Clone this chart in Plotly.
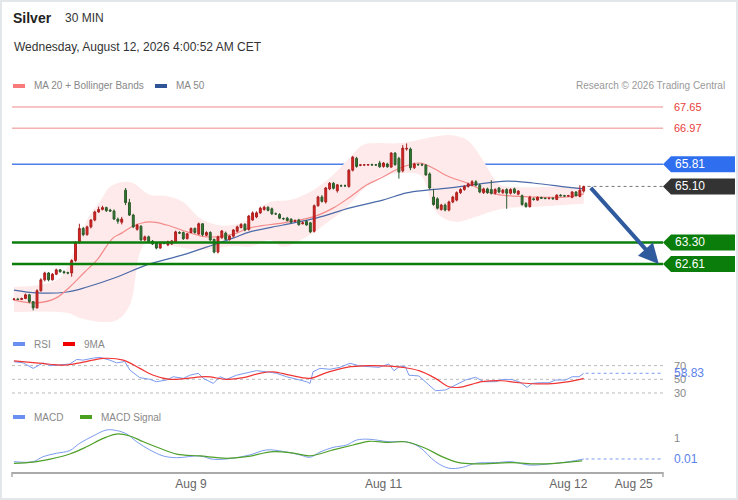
import plotly.graph_objects as go

# ---------------- data ----------------
opens = [61.47,61.48,61.47,61.50,61.62,61.40,61.20,61.75,62.10,62.32,
 62.10,62.28,62.42,62.36,62.33,62.32,62.72,63.30,63.75,63.55,
 63.80,64.02,64.28,64.36,64.42,64.34,64.31,64.05,63.95,64.98,
 64.58,64.18,63.72,63.82,63.38,63.48,63.34,63.28,63.12,63.28,
 63.22,63.25,63.32,63.62,63.62,63.42,63.62,63.75,63.57,63.90,
 63.53,63.62,63.40,62.99,63.45,63.60,63.40,63.50,63.66,63.78,
 63.88,63.72,64.02,64.12,64.25,64.36,64.43,64.38,64.22,64.20,
 64.07,64.08,64.05,63.98,64.02,63.90,63.98,63.93,63.66,64.48,
 64.76,64.60,65.02,65.20,64.96,65.12,65.12,65.10,65.62,66.00,
 65.78,65.79,65.79,65.80,65.79,65.85,65.74,65.82,65.72,66.17,
 66.00,65.60,66.30,66.30,65.70,65.80,65.80,65.78,65.50,64.76,
 64.70,64.36,64.50,64.34,64.60,64.66,64.90,65.00,65.10,65.14,
 65.25,65.14,64.90,65.02,65.00,64.88,65.05,64.90,65.00,64.88,
 65.02,64.85,64.80,64.55,64.45,64.70,64.66,64.74,64.72,64.71,
 64.72,64.68,64.82,64.80,64.79,64.75,64.92,64.78,64.95]
highs = [61.52,61.52,61.53,61.66,61.65,61.42,61.80,62.15,62.36,62.35,
 62.32,62.46,62.45,62.40,62.36,62.76,63.34,63.90,63.80,63.84,
 64.05,64.32,64.45,64.48,64.45,64.38,64.36,64.10,64.12,65.05,
 64.70,64.22,63.90,63.86,63.52,63.52,63.38,63.32,63.32,63.32,
 63.36,63.38,63.68,63.66,63.65,63.60,63.78,63.78,63.94,63.92,
 63.66,63.66,63.42,63.52,63.70,63.65,63.53,63.73,63.84,63.92,
 63.92,64.18,64.30,64.30,64.45,64.48,64.46,64.42,64.26,64.24,
 64.10,64.12,64.08,64.04,64.06,63.98,64.02,63.96,64.52,64.80,
 64.82,65.08,65.24,65.24,65.18,65.16,65.16,65.66,66.08,66.05,
 65.82,65.82,65.82,65.83,65.82,65.92,65.88,65.86,66.20,66.20,
 66.05,66.43,66.48,66.35,65.86,65.84,65.84,65.82,65.55,65.02,
 64.75,64.54,64.55,64.64,64.80,64.94,65.04,65.14,65.22,65.30,
 65.30,65.18,65.06,65.06,65.30,65.04,65.08,65.02,65.04,65.04,
 65.06,64.98,64.84,64.60,64.80,64.74,64.78,64.77,64.75,64.74,
 64.75,64.85,64.85,64.83,64.83,64.95,64.95,65.14,65.12]
lows = [61.44,61.45,61.45,61.48,61.35,61.12,61.18,61.72,62.05,62.05,
 62.08,62.25,62.33,62.30,62.28,62.20,62.68,63.25,63.50,63.52,
 63.75,63.98,64.25,64.33,64.28,64.28,64.02,63.90,63.88,64.50,
 64.15,63.76,63.68,63.35,63.34,63.28,63.22,63.08,63.10,63.24,
 63.18,63.22,63.30,63.57,63.38,63.40,63.60,63.58,63.55,63.50,
 63.50,63.35,62.95,62.95,63.42,63.38,63.36,63.46,63.62,63.75,
 63.66,63.68,64.00,64.08,64.22,64.32,64.30,64.18,64.18,64.05,
 64.02,63.98,63.92,63.96,63.84,63.88,63.84,63.60,63.62,64.45,
 64.58,64.55,64.98,65.00,64.90,65.08,65.08,65.06,65.58,65.70,
 65.75,65.76,65.76,65.76,65.76,65.70,65.70,65.70,65.70,65.76,
 65.35,65.55,66.25,65.62,65.66,65.76,65.75,65.44,65.00,64.48,
 64.36,64.32,64.30,64.30,64.56,64.62,64.86,64.96,65.06,65.10,
 65.10,64.88,64.86,64.86,64.84,64.84,64.88,64.86,64.38,64.84,
 64.86,64.82,64.48,64.42,64.42,64.64,64.64,64.70,64.69,64.68,
 64.69,64.66,64.78,64.77,64.76,64.72,64.78,64.75,64.90]
closes = [61.48,61.47,61.50,61.62,61.40,61.20,61.75,62.10,62.32,62.10,
 62.28,62.42,62.36,62.33,62.32,62.72,63.30,63.75,63.55,63.80,
 64.02,64.28,64.36,64.42,64.32,64.31,64.05,63.98,64.05,64.58,
 64.18,63.80,63.86,63.38,63.48,63.32,63.25,63.12,63.28,63.27,
 63.32,63.35,63.64,63.60,63.42,63.58,63.75,63.62,63.90,63.55,
 63.62,63.38,62.99,63.48,63.67,63.40,63.50,63.70,63.80,63.88,
 63.70,64.15,64.25,64.25,64.40,64.43,64.33,64.22,64.22,64.08,
 64.06,64.00,63.95,64.00,63.87,63.93,63.86,63.64,64.48,64.76,
 64.62,65.05,65.20,65.04,65.15,65.12,65.12,65.62,66.04,65.74,
 65.79,65.79,65.80,65.79,65.79,65.73,65.85,65.73,66.17,65.80,
 65.56,66.33,66.32,65.70,65.82,65.80,65.79,65.47,65.05,64.52,
 64.40,64.50,64.34,64.60,64.76,64.90,65.00,65.10,65.18,65.25,
 65.14,64.92,65.02,64.90,64.88,65.00,64.92,64.98,64.88,65.00,
 64.90,64.95,64.52,64.45,64.75,64.68,64.75,64.72,64.71,64.72,
 64.70,64.82,64.80,64.79,64.80,64.92,64.80,64.98,65.10]
candle_idx = list(range(len(closes)))

ma20_x = [0,6,11,14.5,18.4,21.6,25.7,28,31,35.3,39.7,45,50,57,61.3,70,77.7,83,87.3,91.7,95.8,100.3,105.5,108.8,113.2,117.7,122.9,126.2,134.8,143.6,148]
ma20_y = [61.45,61.36,61.52,61.87,62.35,62.74,63.44,63.6,63.83,63.96,63.86,63.64,63.48,63.57,63.77,63.93,64.12,64.41,64.76,65.15,65.4,65.69,65.85,65.69,65.4,65.21,64.92,64.83,64.76,64.76,64.86]
ma50_x = [0,6,13.8,19,26.8,34.5,43.9,51.7,56.9,61.3,69.9,78.7,87.3,95.8,102,107.3,113.2,119.2,128,134.8,143.6,148]
ma50_y = [61.77,61.68,61.71,61.87,62.19,62.58,62.9,63.22,63.44,63.64,63.86,64.09,64.41,64.66,64.89,64.98,65.05,65.15,65.27,65.21,65.08,65.02]
bbu_x = [0,6.8,12,15.8,19.7,22.3,24.9,28.3,30.9,35.3,39.7,43.9,48.3,52.7,56.9,60.8,66.5,71.7,76.9,82.9,87.3,90.6,94.3,100.3,108.8,113.2,117.7,121.8,124.4,126.2,130.6,139.2,148]
bbu_y = [61.87,61.94,62.16,63.06,64.18,64.6,65.08,65.24,65.21,64.83,64.79,64.6,64.09,63.86,63.86,64.02,64.6,64.66,64.92,65.47,66.04,66.43,66.49,66.49,66.69,66.75,66.59,65.95,65.4,65.15,65.08,65.08,65.08]
bbl_x = [0,13.8,17,22.3,26.8,30.1,32.7,34.5,37.9,42.3,48.3,56.9,61.3,66.5,69.9,76.1,81.3,86.5,90.6,94.3,100.3,105.5,107.3,108.8,111.4,115.1,119.2,123.6,128,134.8,148]
bbl_y = [61.07,61.04,60.88,60.75,60.81,61.29,62.96,63.32,63.28,63.16,63.06,63.19,63.16,63.38,63.16,63.48,63.93,64.44,64.99,65.37,65.53,65.47,65.08,64.44,64.09,63.96,64.09,64.28,64.41,64.44,64.54]

rsi_x = [0,2.4,5,7.6,9.4,12,14.5,16.3,18,20.6,22.3,24.9,26.7,28.8,30.1,32.7,35.3,37,39.7,41.4,44,45.7,47.9,49.2,51.8,53.5,55.2,57.8,60.4,63,65.6,68.2,70.8,73.4,76,76.9,77.7,79.5,82.1,84.7,87.3,89.9,92.2,94.8,97.4,98.7,100.4,101.7,102.6,105.2,107.8,109.5,112.1,114.7,117.3,119.9,122.1,125.1,126.8,129.4,131.2,133.3,134.6,136.4,139,140.7,143.3,145,146.8,148]
rsi_y = [75.7,74,66,74,70,71,72.3,79,78,81,82,78,74,76,63.6,52.4,50,46.5,49,53.8,51.4,56,58.8,51.4,44,53.8,50,56,59.7,62.6,61,58.8,53.8,50,46.5,44,61,66,64.7,67.5,73.4,69.4,68.4,67.5,72.3,62.6,69.4,68.4,56,54.9,41.7,33.4,34.4,41.7,49,53,46.5,46.5,49.6,49.6,46.5,38.3,44,45,45,49,49,53.8,53.8,58.83]
rsima_x = [0,5,9.4,13.7,18,23.2,28.4,32.7,36.2,40.5,44.9,50,55.2,59.6,63.9,67.4,71.7,76.9,81.2,86.4,92.2,97.4,100.9,105.2,109.5,113,115.6,119.9,121.6,126.8,131.2,137.2,140.7,144.2,148]
rsima_y = [77,74.3,72,70.9,75,80.6,78,66,56,50,51.4,53.8,50,52.4,58.8,61,56,51.4,59.7,67.5,70,69.4,67.5,62.6,51.4,39.2,38.3,44.2,46.5,47.9,45,43.2,44.2,46.5,51.4]
rsi_levels = [70, 50, 30]

macd_x = [0,5,7.6,11.1,14.5,17.1,20.6,24.1,26.7,29.3,31.9,35.3,38.8,42.3,48.3,51.8,57,61.3,65.6,70,74.3,76.9,79.5,82.9,86.4,89,92.2,97.4,101.7,105.2,109.5,113,116.5,119.9,125.1,129.4,133.8,139,144.2,148]
macd_y = [-0.115,-0.115,0.12,0.275,0.4,0.74,1.08,1.36,1.33,1.17,0.81,0.43,0.15,0.07,0.15,-0.005,0.05,0.2,0.43,0.36,0.2,0.09,0.33,0.55,0.66,0.89,0.93,0.81,0.81,0.58,-0.115,-0.42,-0.38,-0.19,-0.16,-0.12,-0.27,-0.22,-0.115,0.01]
sig_x = [0,5,9.4,14.5,18.9,23.2,26.7,30.1,33.6,37.9,42.3,48.3,55.2,60.4,67.4,72.6,76.9,82.9,88.1,92.2,97.4,101.7,106.9,111.2,115.6,119.9,129.4,135.5,140.7,147.6]
sig_y = [-0.19,-0.14,0.0,0.24,0.58,0.97,1.17,1.08,0.81,0.51,0.24,0.15,0.04,0.12,0.35,0.28,0.16,0.43,0.66,0.83,0.78,0.81,0.51,0.12,-0.16,-0.22,-0.16,-0.22,-0.19,-0.08]

level_red = [67.65, 66.97]
level_blue = 65.81
level_green = [63.30, 62.61]
last_price = 65.10
target_price = 62.61
rsi_last = 58.83
macd_last = 0.01
macd_ticks = [1]

tick_idx = [46, 96, 144, 161]
tick_text = ["Aug 9", "Aug 11", "Aug 12", "Aug 25"]

# ---------------- geometry helpers (pixels -> paper) ----------------
W, H = 738, 500
ML, MR = 12, 75
PW = W - ML - MR
def px(x):
    return (x - ML) / PW
def py(y):
    return 1 - y / H

FONT = "Liberation Sans, Arial, sans-serif"
X_RANGE = [-0.5, 168.6]
Y_MAIN = [60.65, 68.035]
D_MAIN = [0.35, 0.81]

fig = go.Figure()

# Bollinger band fill
fig.add_trace(go.Scatter(x=bbu_x, y=bbu_y, mode="lines", line=dict(width=0, shape="spline"),
                         hoverinfo="skip", showlegend=False))
fig.add_trace(go.Scatter(x=bbl_x, y=bbl_y, mode="lines", line=dict(width=0, shape="spline"),
                         fill="tonexty", fillcolor="#feeaea", hoverinfo="skip", showlegend=False))
fig.add_trace(go.Scatter(x=ma50_x, y=ma50_y, mode="lines", line=dict(color="#4a6aa8", width=1.2, shape="spline"),
                         hoverinfo="skip", showlegend=False))
fig.add_trace(go.Scatter(x=ma20_x, y=ma20_y, mode="lines", line=dict(color="#f48a8a", width=1.2, shape="spline"),
                         hoverinfo="skip", showlegend=False))

# candles on an overlaid axis so they sit above the band and averages
fig.add_trace(go.Candlestick(
    x=candle_idx, open=opens, high=highs, low=lows, close=closes, yaxis="y4",
    increasing=dict(line=dict(color="#a82020", width=1), fillcolor="#e3221f"),
    decreasing=dict(line=dict(color="#2c5a2c", width=1), fillcolor="#2f7d2f"),
    whiskerwidth=0, showlegend=False, hoverinfo="skip"))

# RSI
fig.add_trace(go.Scatter(x=rsi_x, y=rsi_y, yaxis="y2", mode="lines",
                         line=dict(color="#7b9bef", width=1), hoverinfo="skip", showlegend=False))
fig.add_trace(go.Scatter(x=rsima_x, y=rsima_y, yaxis="y2", mode="lines",
                         line=dict(color="#f03535", width=1.2, shape="spline"), hoverinfo="skip", showlegend=False))
# MACD
fig.add_trace(go.Scatter(x=macd_x, y=macd_y, yaxis="y3", mode="lines",
                         line=dict(color="#7b9bef", width=1, shape="spline"), hoverinfo="skip", showlegend=False))
fig.add_trace(go.Scatter(x=sig_x, y=sig_y, yaxis="y3", mode="lines",
                         line=dict(color="#4fa02a", width=1.2, shape="spline"), hoverinfo="skip", showlegend=False))

shapes = []
annotations = []

# price level lines
for lv in level_red:
    shapes.append(dict(type="line", xref="paper", yref="y", x0=0, x1=1, y0=lv, y1=lv,
                       line=dict(color="#f08a8a", width=1), layer="below"))
    annotations.append(dict(xref="paper", yref="y", x=px(672), y=lv, text=f"{lv:.2f}", showarrow=False,
                            xanchor="left", yanchor="middle", font=dict(family=FONT, size=11, color="#e8403a")))
shapes.append(dict(type="line", xref="paper", yref="y", x0=0, x1=1, y0=level_blue, y1=level_blue,
                   line=dict(color="#4f7fe8", width=1.5), layer="below"))
for lv in level_green:
    shapes.append(dict(type="line", xref="paper", yref="y", x0=0, x1=1, y0=lv, y1=lv,
                       line=dict(color="#0b7d0b", width=2.5), layer="above"))

# last price dotted line
shapes.append(dict(type="line", xref="x", yref="y", x0=len(closes), x1=X_RANGE[1], y0=last_price, y1=last_price,
                   line=dict(color="#777", width=1, dash="dot")))

# tags
HALF = 8 / 31.15
def tag(level, color):
    x0, x1, x2 = px(663), px(671), px(735)
    path = (f"M {x0},{level} L {x1},{level + HALF} L {x2},{level + HALF} "
            f"L {x2},{level - HALF} L {x1},{level - HALF} Z")
    shapes.append(dict(type="path", xref="paper", yref="y", path=path,
                       fillcolor=color, line=dict(width=0)))
    annotations.append(dict(xref="paper", yref="y", x=px(673), y=level, text=f"{level:.2f}", showarrow=False,
                            xanchor="left", yanchor="middle", font=dict(family=FONT, size=12, color="white")))
tag(level_blue, "#2f6fef")
tag(last_price, "#333333")
for lv in level_green:
    tag(lv, "#0a7d0a")

# arrow
annotations.append(dict(xref="x", yref="y", axref="x", ayref="y", x=167.5, y=target_price,
                        ax=len(closes) + 0.5, ay=last_price, text="", showarrow=True,
                        arrowhead=2, arrowsize=1, arrowwidth=4, arrowcolor="#2f5a9e"))

# RSI levels
for lv in rsi_levels:
    shapes.append(dict(type="line", xref="paper", yref="y2", x0=0, x1=1, y0=lv, y1=lv,
                       line=dict(color="#bbbbbb", width=1, dash="dot"), layer="below"))
    annotations.append(dict(xref="paper", yref="y2", x=px(672), y=lv, text=str(lv), showarrow=False,
                            xanchor="left", yanchor="middle", font=dict(family=FONT, size=11, color="#888")))
shapes.append(dict(type="line", xref="x", yref="y2", x0=len(closes) - 0.5, x1=X_RANGE[1], y0=rsi_last, y1=rsi_last,
                   line=dict(color="#7b9bef", width=1, dash="dot")))
annotations.append(dict(xref="paper", yref="y2", x=px(672), y=rsi_last, text=f"{rsi_last:.2f}", showarrow=False,
                        xanchor="left", yanchor="middle", font=dict(family=FONT, size=12, color="#5b82ea")))

# MACD labels
for t in macd_ticks:
    annotations.append(dict(xref="paper", yref="y3", x=px(672), y=t, text=str(t), showarrow=False,
                            xanchor="left", yanchor="middle", font=dict(family=FONT, size=11, color="#888")))
shapes.append(dict(type="line", xref="x", yref="y3", x0=len(closes) - 0.5, x1=X_RANGE[1], y0=macd_last, y1=macd_last,
                   line=dict(color="#7b9bef", width=1, dash="dot")))
annotations.append(dict(xref="paper", yref="y3", x=px(672), y=macd_last, text=f"{macd_last:.2f}", showarrow=False,
                        xanchor="left", yanchor="middle", font=dict(family=FONT, size=12, color="#5b82ea")))

# x axis end ticks
for xx in (12, 663):
    shapes.append(dict(type="line", xref="paper", yref="paper", x0=px(xx), x1=px(xx), y0=py(472), y1=py(477),
                       line=dict(color="#aaaaaa", width=1.5)))

# header texts
def text(x, y, s, size, color, bold=False, anchor="left"):
    annotations.append(dict(xref="paper", yref="paper", x=px(x), y=py(y), text=(f"<b>{s}</b>" if bold else s),
                            showarrow=False, xanchor=anchor, yanchor="middle",
                            font=dict(family=FONT, size=size, color=color)))
text(11, 18, "Silver", 14, "#222", bold=True)
text(63, 18, "30 MIN", 12, "#333")
text(12, 47, "Wednesday, August 12, 2026 4:00:52 AM CET", 12, "#333")
text(727, 86, "Research © 2026 Trading Central", 10, "#999", anchor="right")

def legend(x, y, color, label):
    shapes.append(dict(type="rect", xref="paper", yref="paper", x0=px(x), x1=px(x + 12), y0=py(y - 2), y1=py(y + 2),
                       fillcolor=color, line=dict(width=0)))
    text(x + 19, y, label, 10, "#888")
legend(13, 86, "#f77b7b", "MA 20 + Bollinger Bands")
legend(155, 86, "#2f5597", "MA 50")
legend(13, 344, "#6a8ff0", "RSI")
legend(63, 344, "#f00000", "9MA")
legend(13, 417, "#6a8ff0", "MACD")
legend(80, 417, "#4aa020", "MACD Signal")

# outer frame
shapes.append(dict(type="rect", xref="paper", yref="paper", x0=px(1), x1=px(737), y0=py(499), y1=py(1),
                   line=dict(color="#e3e7ea", width=2), fillcolor="rgba(0,0,0,0)"))

fig.update_layout(
    width=W, height=H,
    margin=dict(l=ML, r=MR, t=0, b=0),
    paper_bgcolor="white", plot_bgcolor="white",
    showlegend=False, hovermode=False,
    shapes=shapes, annotations=annotations,
    xaxis=dict(range=X_RANGE, anchor="y3", showgrid=False, zeroline=False,
               showline=True, linecolor="#aaaaaa", linewidth=2,
               tickmode="array", tickvals=tick_idx, ticktext=tick_text, ticks="",
               tickfont=dict(family=FONT, size=12, color="#666"),
               rangeslider=dict(visible=False), fixedrange=True),
    yaxis=dict(domain=D_MAIN, range=Y_MAIN, showgrid=False, zeroline=False,
               showticklabels=False, fixedrange=True),
    yaxis4=dict(domain=D_MAIN, range=Y_MAIN, overlaying="y", showgrid=False, zeroline=False,
                showticklabels=False, fixedrange=True),
    yaxis2=dict(domain=[0.2, 0.3], range=[19.8, 92.8], showgrid=False, zeroline=False,
                showticklabels=False, fixedrange=True),
    yaxis3=dict(domain=[0.056, 0.15], range=[-0.595, 1.59], showgrid=False, zeroline=False,
                showticklabels=False, fixedrange=True),
)

fig.write_html("out.html", config={"displayModeBar": False},
               post_script="document.body.style.margin='0px';")
